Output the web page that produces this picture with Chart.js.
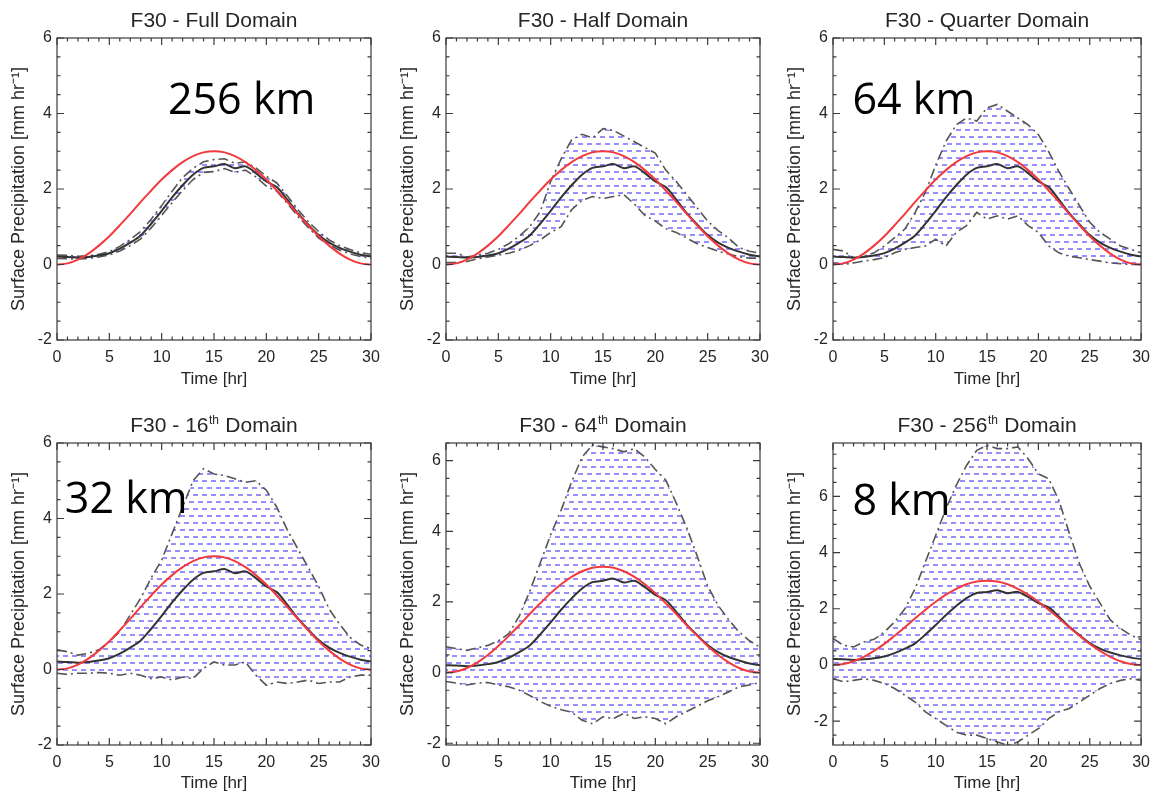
<!DOCTYPE html>
<html>
<head>
<meta charset="utf-8">
<title>F30 surface precipitation spread</title>
<script src="https://cdn.jsdelivr.net/npm/chart.js@4.4.1/dist/chart.umd.min.js"></script>
<style>
    html, body { margin: 0; padding: 0; background: #ffffff; }
    body { width: 1158px; height: 794px; position: relative; overflow: hidden; }
    .panel { position: absolute; }
</style>
</head>
<body>
<div class="panel" style="left:0px;top:0px"><canvas id="panel1" width="388" height="390"></canvas></div>
<div class="panel" style="left:389px;top:0px"><canvas id="panel2" width="388" height="390"></canvas></div>
<div class="panel" style="left:776px;top:0px"><canvas id="panel3" width="382" height="390"></canvas></div>
<div class="panel" style="left:0px;top:400px"><canvas id="panel4" width="388" height="394"></canvas></div>
<div class="panel" style="left:389px;top:400px"><canvas id="panel5" width="388" height="394"></canvas></div>
<div class="panel" style="left:776px;top:400px"><canvas id="panel6" width="382" height="394"></canvas></div>

<script>

// time axis [hr]
var hours = [0, 1, 2, 3, 4, 5, 6, 7, 8, 9, 10, 11, 12, 13, 14, 15, 16, 17, 18, 19, 20, 21, 22, 23, 24, 25, 26, 27, 28, 29, 30];
var xTickValues = [0, 5, 10, 15, 20, 25, 30];
var yTickValues = [-2, 0, 2, 4, 6];

// prescribed forcing (red) and domain mean rain rate (black)
var forcingRate = [0, 0.03, 0.13, 0.29, 0.5, 0.75, 1.04, 1.34, 1.66, 1.96, 2.25, 2.5, 2.71, 2.87, 2.97, 3, 2.97, 2.87, 2.71, 2.5, 2.25, 1.96, 1.66, 1.34, 1.04, 0.75, 0.5, 0.29, 0.13, 0.03, 0];
var meanRate = [0.21, 0.2, 0.18, 0.2, 0.24, 0.3, 0.42, 0.58, 0.77, 1.08, 1.42, 1.78, 2.1, 2.38, 2.56, 2.6, 2.66, 2.55, 2.6, 2.42, 2.2, 2.05, 1.72, 1.36, 1.06, 0.78, 0.58, 0.44, 0.34, 0.26, 0.21];

// min / max envelopes over the sub-domains
var fullUpper = [0.25, 0.24, 0.22, 0.23, 0.27, 0.34, 0.48, 0.66, 0.88, 1.2, 1.56, 1.94, 2.3, 2.55, 2.72, 2.78, 2.8, 2.68, 2.72, 2.56, 2.34, 2.16, 1.82, 1.46, 1.14, 0.87, 0.65, 0.5, 0.4, 0.31, 0.27];
var fullLower = [0.16, 0.15, 0.14, 0.16, 0.2, 0.25, 0.36, 0.5, 0.68, 0.97, 1.3, 1.64, 1.96, 2.25, 2.44, 2.46, 2.54, 2.44, 2.5, 2.32, 2.08, 1.94, 1.62, 1.28, 0.98, 0.7, 0.52, 0.38, 0.28, 0.21, 0.16];

var halfUpper = [0.3, 0.3, 0.2, 0.25, 0.3, 0.4, 0.55, 0.75, 1.0, 1.4, 2.2, 2.8, 3.3, 3.45, 3.35, 3.6, 3.55, 3.4, 3.25, 3.1, 2.95, 2.5, 2.2, 1.85, 1.5, 1.15, 0.9, 0.7, 0.45, 0.35, 0.3];
var halfLower = [0.05, 0.05, 0.08, 0.15, 0.2, 0.25, 0.3, 0.38, 0.5, 0.65, 0.85, 1.0, 1.45, 1.7, 1.8, 1.75, 1.8, 1.85, 1.6, 1.3, 1.15, 0.95, 0.85, 0.7, 0.55, 0.45, 0.35, 0.28, 0.2, 0.17, 0.17];

var quarterUpper = [0.4, 0.36, 0.18, 0.22, 0.31, 0.49, 0.71, 0.94, 1.38, 1.92, 2.63, 3.26, 3.7, 3.88, 3.8, 4.15, 4.24, 4.06, 3.88, 3.7, 3.44, 2.99, 2.46, 2.0, 1.56, 1.12, 0.85, 0.67, 0.49, 0.4, 0.31];
var quarterLower = [0.04, 0, 0.04, 0.09, 0.13, 0.18, 0.31, 0.4, 0.45, 0.49, 0.67, 0.49, 0.85, 1.03, 1.38, 1.2, 1.29, 1.2, 1.29, 1.03, 0.85, 0.49, 0.31, 0.22, 0.18, 0.13, 0.09, 0.04, 0.02, 0, 0];

var sixteenthUpper = [0.52, 0.47, 0.38, 0.43, 0.52, 0.74, 1.0, 1.45, 1.89, 2.43, 2.9, 3.6, 4.3, 5.0, 5.32, 5.18, 5.14, 5.05, 4.96, 5.0, 4.75, 4.3, 3.7, 3.2, 2.7, 2.2, 1.6, 1.2, 0.85, 0.65, 0.55];
var sixteenthLower = [-0.1, -0.13, -0.1, -0.1, -0.08, -0.1, -0.15, -0.1, -0.15, -0.24, -0.2, -0.28, -0.2, -0.24, 0.03, 0.2, 0.12, 0.12, 0.2, -0.15, -0.42, -0.33, -0.37, -0.33, -0.28, -0.37, -0.33, -0.33, -0.2, -0.15, -0.15];

var sixtyFourthUpper = [0.73, 0.68, 0.63, 0.7, 0.77, 0.9, 1.1, 1.6, 2.3, 3.1, 3.9, 4.6, 5.4, 6.1, 6.45, 6.39, 6.34, 6.25, 6.34, 6.1, 5.75, 5.45, 4.8, 4.1, 3.3, 2.45, 1.9, 1.5, 1.15, 0.9, 0.72];
var sixtyFourthLower = [-0.25, -0.3, -0.35, -0.3, -0.28, -0.35, -0.4, -0.5, -0.65, -0.82, -0.95, -1.05, -1.12, -1.35, -1.45, -1.25, -1.3, -1.15, -1.3, -1.25, -1.3, -1.45, -1.25, -1.1, -0.95, -0.8, -0.68, -0.55, -0.4, -0.35, -0.28];

var twoFiftySixthUpper = [0.94, 0.7, 0.64, 0.82, 0.91, 1.17, 1.53, 2.0, 2.72, 3.67, 4.61, 5.56, 6.39, 7.1, 7.64, 7.82, 7.7, 7.7, 7.76, 7.34, 6.8, 6.63, 5.85, 4.7, 3.6, 2.8, 2.2, 1.6, 1.3, 1.06, 0.9];
var twoFiftySixthLower = [-0.49, -0.6, -0.55, -0.49, -0.55, -0.66, -0.84, -1.08, -1.32, -1.67, -1.91, -2.15, -2.39, -2.5, -2.5, -2.62, -2.74, -2.86, -2.74, -2.5, -2.27, -1.91, -1.67, -1.55, -1.32, -1.08, -0.84, -0.66, -0.55, -0.49, -0.55];

// panel titles: prefix, superscript, suffix
var titlePrefix = ['F30 - Full', 'F30 - Half', 'F30 - Quarter', 'F30 - 16', 'F30 - 64', 'F30 - 256'];
var titleSup = ['', '', '', 'th', 'th', 'th'];
var titleSuffix = ' Domain';

var sizeLabels = ['256 km', '', '64 km', '32 km', '', '8 km'];
var sizeLabelAt = [[10.6, 4.0], null, [1.9, 4.0], [0.75, 4.15], null, [1.9, 5.35]];

var yMinList = [-2, -2, -2, -2, -2.05, -2.85];
var yMaxList = [6, 6, 6, 6, 6.5, 7.9];

var upperList = [fullUpper, halfUpper, quarterUpper, sixteenthUpper, sixtyFourthUpper, twoFiftySixthUpper];
var lowerList = [fullLower, halfLower, quarterLower, sixteenthLower, sixtyFourthLower, twoFiftySixthLower];

var fontFamily = "'Liberation Sans', Arial, Helvetica, sans-serif";
var textColor = '#262626';
var areaLeft = 57, areaWidth = 314, areaHeight = 302;

function makeHatch() {
    var tile = document.createElement('canvas');
    tile.width = 9;
    tile.height = 14;
    var c = tile.getContext('2d');
    c.fillStyle = 'rgba(100, 88, 250, 0.68)';
    c.fillRect(0, 3, 5, 2);
    c.fillRect(4, 10, 5, 2);
    return c.createPattern(tile, 'repeat');
}

// box with inward major / minor ticks on all four sides
var idlFrame = {
    id: 'idlFrame',
    afterDraw: function (chart) {
        var ctx = chart.ctx, a = chart.chartArea;
        var xs = chart.scales.x, ys = chart.scales.y;
        ctx.save();
        ctx.strokeStyle = '#3a3a3a';
        ctx.lineWidth = 1.2;
        ctx.strokeRect(a.left, a.top, a.right - a.left, a.bottom - a.top);
        ctx.beginPath();
        for (var t = xs.min; t <= xs.max; t += 1) {
            var px = xs.getPixelForValue(t);
            var len = (t % 5 === 0) ? 7 : 3.5;
            ctx.moveTo(px, a.bottom); ctx.lineTo(px, a.bottom - len);
            ctx.moveTo(px, a.top); ctx.lineTo(px, a.top + len);
        }
        for (var v = Math.ceil(ys.min * 2) / 2; v <= ys.max; v += 0.5) {
            var py = ys.getPixelForValue(v);
            var l2 = (v % 2 === 0) ? 7 : 3.5;
            ctx.moveTo(a.left, py); ctx.lineTo(a.left + l2, py);
            ctx.moveTo(a.right, py); ctx.lineTo(a.right - l2, py);
        }
        ctx.stroke();
        ctx.restore();
    }
};

// title with optional superscript, and the big domain size label
var panelText = {
    id: 'panelText',
    afterDraw: function (chart, args, opts) {
        var ctx = chart.ctx, a = chart.chartArea;
        ctx.save();
        ctx.fillStyle = textColor;
        ctx.textBaseline = 'alphabetic';
        ctx.textAlign = 'left';
        var big = '21px ' + fontFamily, small = '12px ' + fontFamily;
        ctx.font = big;
        var w1 = ctx.measureText(opts.prefix).width;
        var w3 = ctx.measureText(opts.suffix).width;
        ctx.font = small;
        var w2 = opts.sup ? ctx.measureText(opts.sup).width + 1 : 0;
        var x0 = (a.left + a.right) / 2 - (w1 + w2 + w3) / 2;
        var base = a.top - 11;
        ctx.font = big;
        ctx.fillText(opts.prefix, x0, base);
        if (opts.sup) {
            ctx.font = small;
            ctx.fillText(opts.sup, x0 + w1 + 0.5, base - 8);
        }
        ctx.font = big;
        ctx.fillText(opts.suffix, x0 + w1 + w2, base);

        if (opts.label) {
            ctx.fillStyle = '#000000';
            ctx.font = "43px 'Open Sans', 'Noto Sans', sans-serif";
            ctx.fillText(opts.label,
                chart.scales.x.getPixelForValue(opts.labelAt[0]),
                chart.scales.y.getPixelForValue(opts.labelAt[1]));
        }
        ctx.restore();
    }
};

function drawPanel(i) {
    var canvas = document.getElementById('panel' + (i + 1));
    var top = i < 3 ? 38 : 43;
    var hatch = makeHatch();

    return new Chart(canvas.getContext('2d'), {
        type: 'line',
        data: {
            labels: hours,
            datasets: [
                { data: forcingRate, borderColor: '#f23a3e', borderWidth: 2, tension: 0.4, pointRadius: 0, fill: false },
                { data: meanRate, borderColor: '#333333', borderWidth: 2, tension: 0.3, pointRadius: 0, fill: false },
                { data: upperList[i], borderColor: '#555555', borderWidth: 1.6, borderDash: [10, 4, 2, 4], tension: 0, pointRadius: 0,
                  fill: { target: 3 }, backgroundColor: hatch },
                { data: lowerList[i], borderColor: '#555555', borderWidth: 1.6, borderDash: [10, 4, 2, 4], tension: 0, pointRadius: 0, fill: false }
            ]
        },
        options: {
            responsive: false,
            animation: false,
            layout: { padding: { top: top, left: 0, bottom: 0, right: canvas.width - areaLeft - areaWidth } },
            plugins: {
                legend: { display: false },
                tooltip: { enabled: false },
                filler: { drawTime: 'beforeDatasetsDraw' },
                panelText: {
                    prefix: titlePrefix[i], sup: titleSup[i], suffix: titleSuffix,
                    label: sizeLabels[i], labelAt: sizeLabelAt[i]
                }
            },
            scales: {
                x: {
                    type: 'linear', min: 0, max: 30,
                    grid: { display: false, drawTicks: false },
                    border: { display: false },
                    afterBuildTicks: function (s) { s.ticks = xTickValues.map(function (v) { return { value: v }; }); },
                    afterFit: function (s) { s.height = canvas.height - top - areaHeight; },
                    ticks: { padding: 8, color: textColor, font: { family: fontFamily, size: 16 }, maxRotation: 0 },
                    title: { display: true, text: 'Time [hr]', color: textColor, padding: { top: 2, bottom: 0 },
                             font: { family: fontFamily, size: 17 } }
                },
                y: {
                    type: 'linear', min: yMinList[i], max: yMaxList[i],
                    grid: { display: false, drawTicks: false },
                    border: { display: false },
                    afterBuildTicks: function (s) {
                        s.ticks = yTickValues.filter(function (v) { return v >= s.min && v <= s.max; })
                            .map(function (v) { return { value: v }; });
                    },
                    afterFit: function (s) { s.width = areaLeft; },
                    ticks: { padding: 5, color: textColor, font: { family: fontFamily, size: 16 } },
                    title: { display: true, text: 'Surface Precipitation [mm hr\u207B\u00B9]', color: textColor,
                             padding: { top: 8, bottom: 0 }, font: { family: fontFamily, size: 18 } }
                }
            }
        },
        plugins: [idlFrame, panelText]
    });
}

for (var p = 0; p < 6; p++) {
    drawPanel(p);
}

</script>
</body>
</html>
